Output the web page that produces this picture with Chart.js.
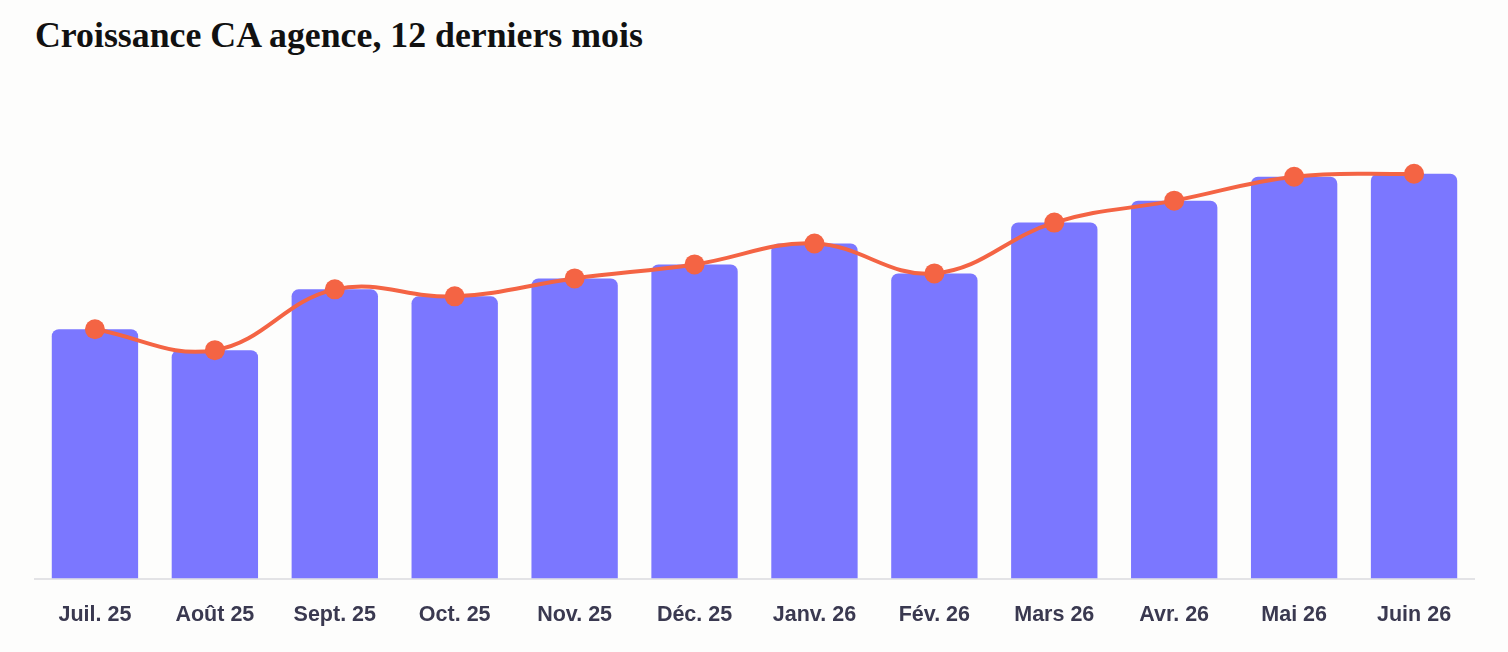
<!DOCTYPE html>
<html lang="fr">
<head>
<meta charset="utf-8">
<title>Croissance CA agence</title>
<script src="https://cdn.jsdelivr.net/npm/chart.js@4.4.1/dist/chart.umd.min.js"></script>
<style>
  html, body { margin: 0; padding: 0; background: #fdfdfc; }
  #wrap { position: relative; width: 1508px; height: 652px; }
  #titre {
    position: absolute; left: 35px; top: 18px; margin: 0;
    font-family: "Liberation Serif", "DejaVu Serif", serif;
    font-weight: bold; font-size: 35.8px; line-height: 1; color: #111;
  }
  canvas { position: absolute; left: 0; top: 0; }
</style>
</head>
<body>
<div id="wrap">
  <h1 id="titre">Croissance CA agence, 12 derniers mois</h1>
  <canvas id="myChart" width="1508" height="652"></canvas>
</div>
<script>
// mois affichés sur l'axe
var mois = ['Juil. 25', 'Août 25', 'Sept. 25', 'Oct. 25', 'Nov. 25', 'Déc. 25',
            'Janv. 26', 'Fév. 26', 'Mars 26', 'Avr. 26', 'Mai 26', 'Juin 26'];
// CA mensuel (barres)
var caMensuel = [50, 45.8, 58, 56.6, 60.2, 63, 67.2, 61.2, 71.4, 75.8, 80.6, 81.2];
// courbe de tendance (points sur le haut des barres)
var tendance = [50, 45.8, 58, 56.6, 60.2, 63, 67.2, 61.2, 71.4, 75.8, 80.6, 81.2];

var violet = '#7b77ff';
var orange = '#f46444';

let ctx = document.getElementById('myChart').getContext('2d');
let chart1 = new Chart(ctx, {
    type: 'bar',
    data: {
        labels: mois,
        datasets: [{
            type: 'line',
            data: tendance,
            borderColor: orange,
            backgroundColor: orange,
            borderWidth: 4,
            tension: 0.4,
            pointRadius: 10,
            pointBorderWidth: 0,
            pointBackgroundColor: orange,
            order: 1
        }, {
            type: 'bar',
            data: caMensuel,
            backgroundColor: violet,
            borderRadius: 7,
            borderSkipped: 'bottom',
            categoryPercentage: 1,
            barPercentage: 0.72,
            order: 2
        }]
    },
    options: {
        responsive: false,
        animation: false,
        layout: {
            padding: { left: 35, right: 34, top: 80, bottom: 0 }
        },
        plugins: {
            legend: { display: false },
            tooltip: { enabled: false },
            title: { display: false }
        },
        scales: {
            x: {
                grid: { display: false, drawTicks: false },
                border: { display: true, color: '#e3e3e6', width: 2 },
                ticks: {
                    padding: 26,
                    color: '#3a3950',
                    font: { family: 'Liberation Sans, Arial, sans-serif', size: 21.5, weight: 'bold', lineHeight: 1 }
                }
            },
            y: {
                display: false,
                min: 0,
                max: 100
            }
        }
    }
});
</script>
</body>
</html>
